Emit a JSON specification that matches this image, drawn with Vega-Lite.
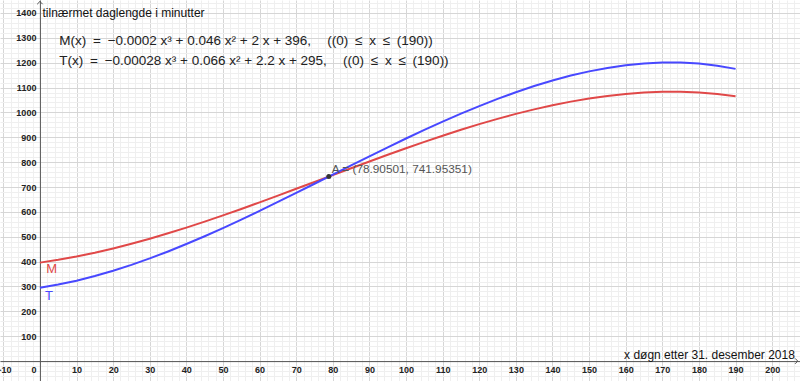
{
  "$schema": "https://vega.github.io/schema/vega-lite/v6.json",
  "width": 800,
  "height": 381,
  "autosize": "none",
  "padding": 0,
  "background": "white",
  "config": {"view": {"stroke": null}, "font": "Liberation Sans"},
  "datasets": {
    "curves": [
      {"s":"M","x":0,"y":396},{"s":"M","x":5,"y":407.125},{"s":"M","x":10,"y":420.4},{"s":"M","x":15,"y":435.675},{"s":"M","x":20,"y":452.8},{"s":"M","x":25,"y":471.625},{"s":"M","x":30,"y":492.0},{"s":"M","x":35,"y":513.775},{"s":"M","x":40,"y":536.8},{"s":"M","x":45,"y":560.925},{"s":"M","x":50,"y":586},{"s":"M","x":55,"y":611.875},{"s":"M","x":60,"y":638.4},{"s":"M","x":65,"y":665.425},{"s":"M","x":70,"y":692.8},{"s":"M","x":75,"y":720.375},{"s":"M","x":80,"y":748.0},{"s":"M","x":85,"y":775.525},{"s":"M","x":90,"y":802.8},{"s":"M","x":95,"y":829.675},{"s":"M","x":100,"y":856},{"s":"M","x":105,"y":881.625},{"s":"M","x":110,"y":906.4},{"s":"M","x":115,"y":930.175},{"s":"M","x":120,"y":952.8},{"s":"M","x":125,"y":974.125},{"s":"M","x":130,"y":994.0},{"s":"M","x":135,"y":1012.275},{"s":"M","x":140,"y":1028.8},{"s":"M","x":145,"y":1043.425},{"s":"M","x":150,"y":1056},{"s":"M","x":155,"y":1066.375},{"s":"M","x":160,"y":1074.4},{"s":"M","x":165,"y":1079.925},{"s":"M","x":170,"y":1082.8},{"s":"M","x":175,"y":1082.875},{"s":"M","x":180,"y":1080.0},{"s":"M","x":185,"y":1074.025},{"s":"M","x":190,"y":1064.8},
      {"s":"T","x":0,"y":295},{"s":"T","x":5,"y":307.615},{"s":"T","x":10,"y":323.32},{"s":"T","x":15,"y":341.905},{"s":"T","x":20,"y":363.16},{"s":"T","x":25,"y":386.875},{"s":"T","x":30,"y":412.84},{"s":"T","x":35,"y":440.845},{"s":"T","x":40,"y":470.68},{"s":"T","x":45,"y":502.135},{"s":"T","x":50,"y":535},{"s":"T","x":55,"y":569.065},{"s":"T","x":60,"y":604.12},{"s":"T","x":65,"y":639.955},{"s":"T","x":70,"y":676.36},{"s":"T","x":75,"y":713.125},{"s":"T","x":80,"y":750.04},{"s":"T","x":85,"y":786.895},{"s":"T","x":90,"y":823.48},{"s":"T","x":95,"y":859.585},{"s":"T","x":100,"y":895},{"s":"T","x":105,"y":929.515},{"s":"T","x":110,"y":962.92},{"s":"T","x":115,"y":995.005},{"s":"T","x":120,"y":1025.56},{"s":"T","x":125,"y":1054.375},{"s":"T","x":130,"y":1081.24},{"s":"T","x":135,"y":1105.945},{"s":"T","x":140,"y":1128.28},{"s":"T","x":145,"y":1148.035},{"s":"T","x":150,"y":1165},{"s":"T","x":155,"y":1178.965},{"s":"T","x":160,"y":1189.72},{"s":"T","x":165,"y":1197.055},{"s":"T","x":170,"y":1200.76},{"s":"T","x":175,"y":1200.625},{"s":"T","x":180,"y":1196.44},{"s":"T","x":185,"y":1187.995},{"s":"T","x":190,"y":1175.08}
    ],
    "point": [{"name":"A","x":78.90501,"y":741.95351,"label":"A = (78.90501, 741.95351)"}],
    "curveLabels": [{"s":"M","x":3.2,"y":370},{"s":"T","x":2.5,"y":263}],
    "notes": [
      {"text":"M(x)\u2002=\u2002−0.0002 x³ + 0.046 x² + 2 x + 396,\u2003\u2009((0)\u2002≤\u2002x\u2002≤\u2002(190))","x":5.3,"y":1289},
      {"text":"T(x)\u2002=\u2002−0.00028 x³ + 0.066 x² + 2.2 x + 295,\u2003\u2009((0)\u2002≤\u2002x\u2002≤\u2002(190))","x":5.3,"y":1207}
    ]
  },
  "layer": [
    {
      "data": {"name": "curves"},
      "mark": {"type": "line", "strokeWidth": 2, "clip": true},
      "encoding": {
        "x": {"field": "x", "type": "quantitative",
          "scale": {"domain": [-10.9, 207.6], "nice": false, "zero": false},
          "axis": {
            "orient": "bottom", "offset": -19.9, "title": null,
            "tickCount": 1000,
            "format": "d",
            "values": [-10,-8,-6,-4,-2,0,2,4,6,8,10,12,14,16,18,20,22,24,26,28,30,32,34,36,38,40,42,44,46,48,50,52,54,56,58,60,62,64,66,68,70,72,74,76,78,80,82,84,86,88,90,92,94,96,98,100,102,104,106,108,110,112,114,116,118,120,122,124,126,128,130,132,134,136,138,140,142,144,146,148,150,152,154,156,158,160,162,164,166,168,170,172,174,176,178,180,182,184,186,188,190,192,194,196,198,200,202,204,206],
            "grid": true,
            "gridColor": {"condition": {"test": "datum.value % 10 === 0", "value": "#d6d6d6"}, "value": "#efefef"},
            "gridWidth": 1,
            "ticks": false,
            "labelExpr": "datum.value % 10 === 0 ? datum.label : ''",
            "labelFontSize": 9, "labelFontWeight": "bold", "labelColor": "#222", "labelPadding": 4,
            "labelAlign": {"condition": {"test": "datum.value === 0", "value": "right"}, "value": "center"},
            "labelOffset": {"condition": {"test": "datum.value === 0", "value": -4}, "value": 0},
            "labelFlush": false, "labelOverlap": false,
            "domainColor": "#555", "domainWidth": 1
          }},
        "y": {"field": "y", "type": "quantitative",
          "scale": {"domain": [-80, 1452], "nice": false, "zero": false},
          "axis": {
            "orient": "left", "offset": -39.9, "title": null,
            "tickCount": 1000,
            "values": [-80,-60,-40,-20,0,20,40,60,80,100,120,140,160,180,200,220,240,260,280,300,320,340,360,380,400,420,440,460,480,500,520,540,560,580,600,620,640,660,680,700,720,740,760,780,800,820,840,860,880,900,920,940,960,980,1000,1020,1040,1060,1080,1100,1120,1140,1160,1180,1200,1220,1240,1260,1280,1300,1320,1340,1360,1380,1400,1420,1440],
            "grid": true,
            "gridColor": {"condition": {"test": "datum.value % 100 === 0", "value": "#d6d6d6"}, "value": "#efefef"},
            "gridWidth": 1,
            "ticks": false,
            "labelExpr": "(datum.value % 100 === 0 && datum.value > 0) ? datum.label : ''",
            "labelFontSize": 9, "labelFontWeight": "bold", "labelColor": "#222", "labelPadding": 4,
            "labelFlush": false, "labelOverlap": false,
            "format": "d",
            "domainColor": "#555", "domainWidth": 1
          }},
        "color": {"field": "s", "type": "nominal",
          "scale": {"domain": ["M", "T"], "range": ["#e04848", "#4848ff"]}, "legend": null}
      }
    },
    {
      "data": {"name": "curveLabels"},
      "mark": {"type": "text", "fontSize": 13, "align": "center", "baseline": "middle"},
      "encoding": {
        "x": {"field": "x", "type": "quantitative"},
        "y": {"field": "y", "type": "quantitative"},
        "text": {"field": "s"},
        "color": {"field": "s", "type": "nominal", "legend": null}
      }
    },
    {
      "data": {"name": "point"},
      "mark": {"type": "point", "filled": true, "size": 25, "color": "#333", "opacity": 1},
      "encoding": {
        "x": {"field": "x", "type": "quantitative"},
        "y": {"field": "y", "type": "quantitative"}
      }
    },
    {
      "data": {"name": "point"},
      "mark": {"type": "text", "fontSize": 11.8, "align": "left", "baseline": "middle", "dx": 3, "dy": -8, "color": "#555"},
      "encoding": {
        "x": {"field": "x", "type": "quantitative"},
        "y": {"field": "y", "type": "quantitative"},
        "text": {"field": "label"}
      }
    },
    {
      "data": {"name": "notes"},
      "mark": {"type": "text", "fontSize": 13.5, "align": "left", "baseline": "middle", "color": "#222"},
      "encoding": {
        "x": {"field": "x", "type": "quantitative"},
        "y": {"field": "y", "type": "quantitative"},
        "text": {"field": "text"}
      }
    },
    {
      "data": {"values": [{"t": "tilnærmet daglengde i minutter"}]},
      "mark": {"type": "text", "fontSize": 12, "align": "left", "baseline": "middle", "color": "#111"},
      "encoding": {
        "x": {"datum": 0.7},
        "y": {"datum": 1400},
        "text": {"field": "t"}
      }
    },
    {
      "data": {"values": [{"t": "x døgn etter 31. desember 2018"}]},
      "mark": {"type": "text", "fontSize": 12, "align": "right", "baseline": "middle", "color": "#111"},
      "encoding": {
        "x": {"datum": 206.2},
        "y": {"datum": 24.5},
        "text": {"field": "t"}
      }
    },
    {
      "data": {"values": [{"a": "y"}]},
      "mark": {"type": "point", "shape": "M-1,1L0,0L1,1", "filled": false, "size": 30, "stroke": "#555", "strokeWidth": 1, "opacity": 1},
      "encoding": {
        "x": {"datum": 0},
        "y": {"datum": 1446}
      }
    },
    {
      "data": {"values": [{"a": "x"}]},
      "mark": {"type": "point", "shape": "M-1,-1L0,0L-1,1", "filled": false, "size": 30, "stroke": "#555", "strokeWidth": 1, "opacity": 1},
      "encoding": {
        "x": {"datum": 207},
        "y": {"datum": 0}
      }
    }
  ]
}
